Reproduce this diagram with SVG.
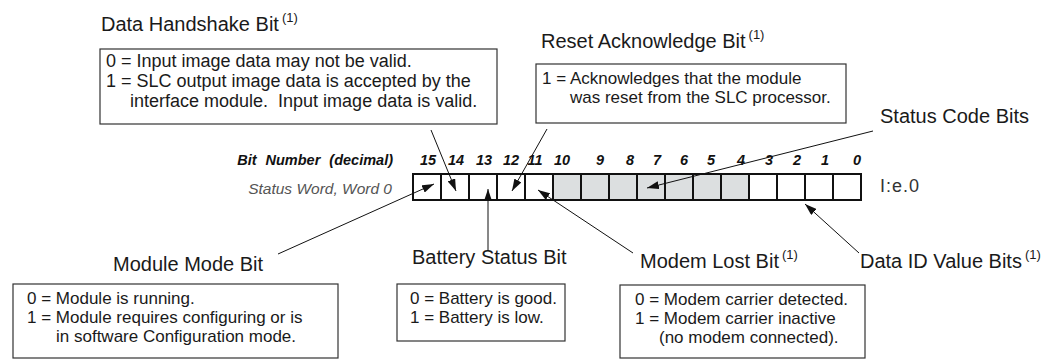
<svg xmlns="http://www.w3.org/2000/svg" width="1055" height="360" viewBox="0 0 1055 360">
<defs>
<marker id="ah" viewBox="0 0 12 8" refX="12" refY="4" markerWidth="12" markerHeight="8" orient="auto" markerUnits="userSpaceOnUse"><path d="M0,0 L12,4 L0,8 z" fill="#111"/></marker>
<style>
.t{font-family:"Liberation Sans",Arial,sans-serif;fill:#1a1a1a}
.title{font-size:20px}
.bt{font-size:17px}
.bt1{font-size:18px}
.sup{font-size:13px}
.box{fill:#fff;stroke:#333;stroke-width:1.2}
.num{font-family:"Liberation Sans",Arial,sans-serif;font-size:14.5px;font-weight:bold;font-style:italic;fill:#111;text-anchor:middle}
.sw{font-family:"Liberation Sans",Arial,sans-serif;font-size:15.5px;font-style:italic;fill:#555}
.cell{fill:none;stroke:#111;stroke-width:2}
.shade{fill:#dcdfe0}
.conn{stroke:#111;stroke-width:1;fill:none}
.arr{marker-end:url(#ah)}
</style>
</defs>
<rect width="1055" height="360" fill="#fff"/>

<g id="data-handshake">
<text class="t title" x="101" y="31">Data Handshake Bit<tspan class="sup" dx="3" dy="-9">(1)</tspan></text>
<rect class="box" x="100" y="49" width="397" height="75"/>
<text class="t bt1" x="106" y="66.5">0 = Input image data may not be valid.</text>
<text class="t bt1" x="106" y="86.7">1 = SLC output image data is accepted by the</text>
<text class="t bt1" x="130" y="106.9" xml:space="preserve">interface module.  Input image data is valid.</text>
</g>

<g id="reset-ack">
<text class="t title" x="541" y="48">Reset Acknowledge Bit<tspan class="sup" dx="3" dy="-9">(1)</tspan></text>
<rect class="box" x="536" y="64" width="310" height="59"/>
<text class="t bt" x="542" y="83.5">1 = Acknowledges that the module</text>
<text class="t bt" x="570" y="102.5">was reset from the SLC processor.</text>
</g>

<g id="status-code">
<text class="t title" x="880" y="123">Status Code Bits</text>
</g>

<g id="bit-row">
<text class="num" x="393" y="165" style="text-anchor:end;word-spacing:5px">Bit Number (decimal)</text>
<text class="sw" x="392" y="194" text-anchor="end">Status Word, Word 0</text>
<text class="num" x="428" y="165">15</text>
<text class="num" x="456" y="165">14</text>
<text class="num" x="484" y="165">13</text>
<text class="num" x="511" y="165">12</text>
<text class="num" x="535" y="165">11</text>
<text class="num" x="562" y="165">10</text>
<text class="num" x="600" y="165">9</text>
<text class="num" x="630" y="165">8</text>
<text class="num" x="657" y="165">7</text>
<text class="num" x="684" y="165">6</text>
<text class="num" x="711" y="165">5</text>
<text class="num" x="741" y="165">4</text>
<text class="num" x="769" y="165">3</text>
<text class="num" x="797" y="165">2</text>
<text class="num" x="825" y="165">1</text>
<text class="num" x="857" y="165">0</text>
<rect class="shade" x="553" y="174" width="196" height="26"/>
<g class="cell">
<rect x="413" y="174" width="28" height="26"/>
<rect x="441" y="174" width="28" height="26"/>
<rect x="469" y="174" width="28" height="26"/>
<rect x="497" y="174" width="28" height="26"/>
<rect x="525" y="174" width="28" height="26"/>
<rect x="553" y="174" width="28" height="26"/>
<rect x="581" y="174" width="28" height="26"/>
<rect x="609" y="174" width="28" height="26"/>
<rect x="637" y="174" width="28" height="26"/>
<rect x="665" y="174" width="28" height="26"/>
<rect x="693" y="174" width="28" height="26"/>
<rect x="721" y="174" width="28" height="26"/>
<rect x="749" y="174" width="28" height="26"/>
<rect x="777" y="174" width="28" height="26"/>
<rect x="805" y="174" width="28" height="26"/>
<rect x="833" y="174" width="28" height="26"/>
</g>
<text class="t" x="880" y="192" style="font-size:18px;letter-spacing:1px;fill:#333">I:e.0</text>
</g>

<g id="module-mode">
<text class="t title" x="113" y="271">Module Mode Bit</text>
<rect class="box" x="13" y="284" width="325" height="74"/>
<text class="t bt" x="27" y="304">0 = Module is running.</text>
<text class="t bt" x="27" y="323">1 = Module requires configuring or is</text>
<text class="t bt" x="56" y="342">in software Configuration mode.</text>
</g>

<g id="battery-status">
<text class="t title" x="412" y="264">Battery Status Bit</text>
<rect class="box" x="397" y="284" width="168" height="57"/>
<text class="t bt" x="410" y="303.5">0 = Battery is good.</text>
<text class="t bt" x="410" y="322.5">1 = Battery is low.</text>
</g>

<g id="modem-lost">
<text class="t title" x="640" y="268">Modem Lost Bit<tspan class="sup" dx="3" dy="-9">(1)</tspan></text>
<rect class="box" x="620" y="285" width="245" height="73"/>
<text class="t bt" x="635" y="305">0 = Modem carrier detected.</text>
<text class="t bt" x="635" y="324">1 = Modem carrier inactive</text>
<text class="t bt" x="659" y="343">(no modem connected).</text>
</g>

<g id="data-id">
<text class="t title" x="860" y="268">Data ID Value Bits<tspan class="sup" dx="3" dy="-9">(1)</tspan></text>
</g>

<g id="connectors">
<line class="conn arr" x1="431" y1="130" x2="456" y2="191"/>
<line class="conn arr" x1="547" y1="129" x2="512" y2="191"/>
<line class="conn arr" x1="278" y1="254" x2="434" y2="184"/>
<line class="conn arr" x1="488" y1="251" x2="488" y2="189"/>
<line class="conn arr" x1="633" y1="253" x2="538" y2="190"/>
<line class="conn arr" x1="873" y1="131" x2="647" y2="188"/>
<line class="conn arr" x1="859" y1="253" x2="805" y2="204"/>
</g>
</svg>
